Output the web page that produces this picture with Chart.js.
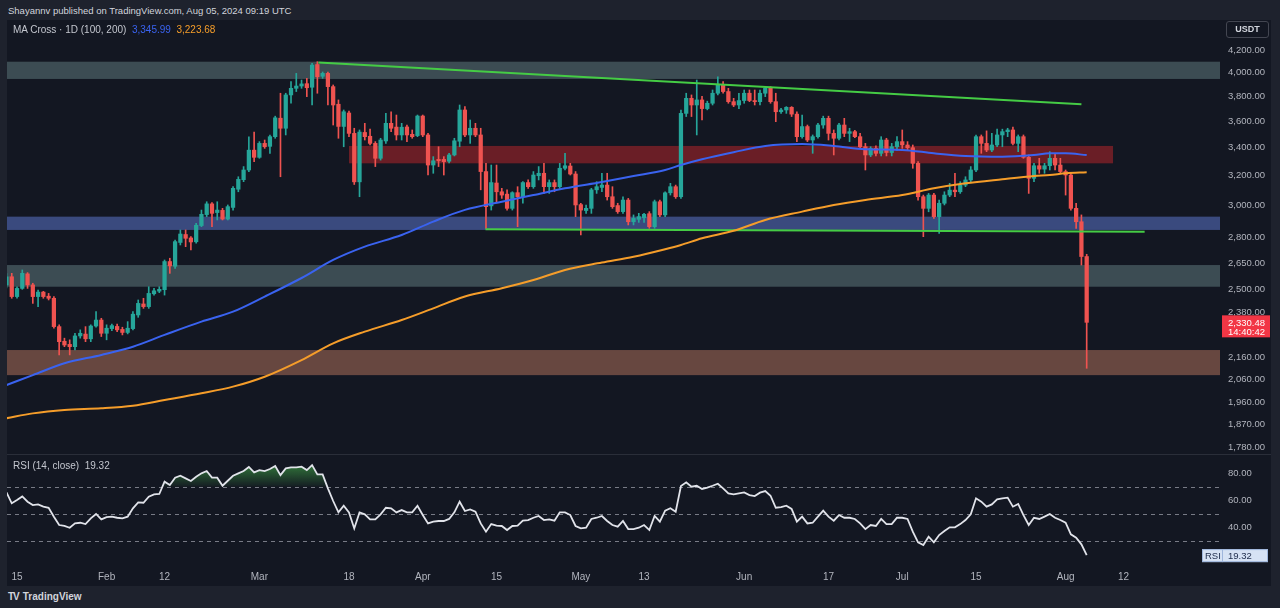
<!DOCTYPE html>
<html>
<head>
<meta charset="utf-8" />
<script src="https://cdn.jsdelivr.net/npm/chart.js"></script>
<style>
  html, body { margin: 0; padding: 0; }
  body {
    width: 1280px; height: 608px; background: #1e222d; position: relative; overflow: hidden;
    font-family: "Liberation Sans", Arial, sans-serif; color: #d1d4dc;
  }
  #panel { position: absolute; left: 7px; top: 20px; width: 1264px; height: 566px; background: #131722; }
  #priceChart { position: absolute; left: 7px; top: 20px; }
  #rsiChart { position: absolute; left: 7px; top: 455px; }
  #sep { position: absolute; left: 7px; top: 454px; width: 1264px; height: 1px; background: #2a2e39; }
  #header { position: absolute; left: 8px; top: 6px; font-size: 9.5px; line-height: 10px; }
  .legend { position: absolute; left: 13px; font-size: 10px; line-height: 10px; color: #c3c6ce; white-space: pre; }
  #maLegend { top: 25px; }
  #rsiLegend { top: 461px; }
  .blue { color: #3a63f0; }
  .orange { color: #f59d2a; }
  #usdt {
    position: absolute; left: 1226px; top: 21px; width: 41px; height: 15px; border: 1px solid #434651;
    border-radius: 3px; font-size: 9px; font-weight: bold; line-height: 15px; text-align: center; color: #d1d4dc;
  }
  #logo { position: absolute; left: 8px; top: 591px; font-size: 10px; line-height: 11px; font-weight: bold; color: #d1d4dc; }
  #logo .mark { font-size: 10px; letter-spacing: -1px; margin-right: 4px; }
</style>
</head>
<body>
<div id="header">Shayannv published on TradingView.com, Aug 05, 2024 09:19 UTC</div>
<div id="panel"></div>
<canvas id="priceChart" width="1264" height="434" style="width:1264px;height:434px"></canvas>
<div id="sep"></div>
<canvas id="rsiChart" width="1264" height="131" style="width:1264px;height:131px"></canvas>
<div id="maLegend" class="legend">MA Cross · 1D (100, 200)  <span class="blue">3,345.99</span>  <span class="orange">3,223.68</span></div>
<div id="rsiLegend" class="legend">RSI (14, close)  19.32</div>
<div id="usdt">USDT</div>
<div id="logo"><span class="mark">TV</span>TradingView</div>
<script>
// ETH/USDT daily, day 0 = Jan 15 2024
const firstDay = -2;
const opens = [
  2527, 2572, 2464, 2508, 2588, 2527, 2464, 2488, 2466, 2455, 2309, 2237, 2222, 2211, 2263, 2272, 2249, 2312, 2342, 2276,
  2299, 2310, 2295, 2280, 2299, 2368, 2425, 2411, 2479, 2493, 2501, 2658, 2631, 2770, 2818, 2797, 2774, 2873, 2942, 3011,
  2955, 2969, 2914, 2988, 3108, 3173, 3240, 3382, 3330, 3432, 3410, 3482, 3624, 3546, 3811, 3866, 3885, 3905, 3875, 4070,
  3968, 3993, 3880, 3735, 3560, 3665, 3507, 3158, 3514, 3485, 3432, 3323, 3450, 3584, 3555, 3495, 3556, 3500, 3490, 3641,
  3495, 3275, 3315, 3315, 3302, 3347, 3448, 3689, 3495, 3546, 3495, 3229, 2998, 3150, 3091, 3075, 2982, 3085, 3058, 3153,
  3125, 3200, 3217, 3125, 3153, 3125, 3252, 3268, 3212, 3006, 2968, 2982, 3104, 3120, 3136, 3058, 3000, 2961, 3036, 2897,
  2912, 2922, 2948, 2866, 3025, 2940, 3084, 3125, 3058, 3662, 3783, 3729, 3770, 3700, 3743, 3825, 3894, 3839, 3756, 3729,
  3765, 3825, 3765, 3756, 3825, 3866, 3756, 3675, 3689, 3710, 3656, 3482, 3559, 3457, 3482, 3571, 3623, 3507, 3470, 3571,
  3507, 3520, 3482, 3407, 3347, 3395, 3359, 3457, 3365, 3407, 3445, 3420, 3400, 3287, 3058, 2982, 3069, 2929, 3015, 3069,
  3102, 3091, 3136, 3171, 3240, 3482, 3432, 3383, 3420, 3495, 3520, 3533, 3432, 3482, 3330, 3182, 3270, 3246, 3270, 3323,
  3275, 3229, 3205, 2982, 2897, 2687
];
const highs = [
  2590, 2591, 2517, 2610, 2595, 2536, 2499, 2492, 2481, 2464, 2318, 2252, 2244, 2276, 2293, 2309, 2318, 2385, 2351, 2318,
  2322, 2322, 2306, 2334, 2385, 2446, 2455, 2517, 2508, 2517, 2667, 2677, 2785, 2846, 2846, 2805, 2887, 2971, 3025, 3019,
  3025, 2982, 3004, 3125, 3193, 3264, 3480, 3517, 3445, 3457, 3495, 3640, 3825, 3825, 3922, 3993, 3936, 3950, 4081, 4095,
  4005, 4005, 3894, 3770, 3689, 3680, 3546, 3533, 3584, 3539, 3445, 3470, 3662, 3675, 3649, 3584, 3571, 3533, 3649, 3649,
  3507, 3335, 3407, 3335, 3359, 3470, 3729, 3716, 3610, 3584, 3546, 3287, 3275, 3275, 3114, 3104, 3091, 3125, 3159, 3171,
  3229, 3264, 3287, 3171, 3171, 3287, 3359, 3287, 3229, 3015, 3004, 3114, 3159, 3217, 3217, 3125, 3015, 3058, 3047, 2940,
  2950, 2950, 2961, 3036, 3036, 3091, 3148, 3136, 3689, 3825, 3811, 3936, 3800, 3760, 3852, 3964, 3922, 3866, 3783, 3825,
  3852, 3852, 3852, 3852, 3880, 3880, 3825, 3702, 3716, 3716, 3675, 3649, 3571, 3495, 3584, 3640, 3640, 3533, 3584, 3623,
  3546, 3530, 3507, 3432, 3407, 3413, 3482, 3470, 3432, 3482, 3533, 3445, 3420, 3300, 3069, 3080, 3080, 3036, 3091, 3148,
  3217, 3159, 3193, 3264, 3495, 3495, 3526, 3507, 3539, 3539, 3546, 3555, 3495, 3495, 3347, 3287, 3323, 3287, 3371, 3359,
  3323, 3240, 3217, 3015, 2940, 2700
];
const lows = [
  2510, 2455, 2455, 2503, 2508, 2428, 2411, 2455, 2446, 2301, 2172, 2211, 2172, 2195, 2252, 2235, 2235, 2306, 2260, 2244,
  2289, 2284, 2268, 2273, 2293, 2356, 2402, 2402, 2472, 2485, 2472, 2591, 2619, 2755, 2745, 2725, 2765, 2866, 2929, 2866,
  2908, 2908, 2908, 2971, 3091, 3159, 3229, 3299, 3323, 3395, 3359, 3470, 3193, 3495, 3743, 3839, 3866, 3797, 3729, 3825,
  3950, 3729, 3571, 3470, 3407, 3482, 3140, 3058, 3457, 3420, 3264, 3310, 3432, 3520, 3457, 3457, 3445, 3470, 3482, 3482,
  3205, 3217, 3264, 3205, 3290, 3340, 3407, 3482, 3432, 3482, 3104, 2856, 2971, 3025, 3047, 2971, 2971, 2866, 3015, 3114,
  3114, 3171, 3080, 3080, 3091, 3114, 3240, 3205, 2929, 2815, 2950, 2950, 3080, 3091, 3036, 2982, 2950, 2950, 2877, 2877,
  2893, 2893, 2856, 2856, 2929, 2929, 3069, 3047, 3047, 3637, 3637, 3495, 3610, 3690, 3729, 3811, 3825, 3743, 3716, 3700,
  3743, 3756, 3729, 3729, 3797, 3743, 3597, 3662, 3662, 3637, 3445, 3470, 3445, 3359, 3470, 3546, 3457, 3347, 3457, 3482,
  3445, 3475, 3395, 3240, 3335, 3340, 3340, 3340, 3340, 3380, 3395, 3385, 3252, 3036, 2805, 2960, 2918, 2825, 3004, 3058,
  3058, 3080, 3125, 3159, 3229, 3359, 3371, 3371, 3407, 3407, 3482, 3420, 3371, 3323, 3080, 3159, 3217, 3217, 3240, 3240,
  3217, 3069, 2971, 2856, 2638, 2110
];
const closes = [
  2572, 2464, 2508, 2591, 2527, 2464, 2488, 2464, 2455, 2309, 2235, 2219, 2211, 2263, 2276, 2249, 2312, 2342, 2276, 2301,
  2314, 2293, 2280, 2301, 2372, 2428, 2411, 2481, 2495, 2503, 2658, 2633, 2775, 2821, 2795, 2773, 2875, 2944, 3011, 2950,
  2971, 2914, 2993, 3114, 3175, 3240, 3382, 3330, 3432, 3407, 3482, 3627, 3546, 3811, 3866, 3885, 3903, 3871, 4065, 3964,
  3993, 3880, 3729, 3560, 3675, 3507, 3158, 3517, 3482, 3432, 3323, 3457, 3584, 3546, 3495, 3554, 3495, 3482, 3641, 3495,
  3275, 3305, 3305, 3299, 3347, 3451, 3689, 3495, 3546, 3495, 3229, 2993, 3153, 3091, 3069, 2982, 3085, 3058, 3153, 3125,
  3205, 3217, 3125, 3153, 3125, 3252, 3270, 3212, 3004, 2971, 2982, 3104, 3125, 3136, 3058, 2993, 2961, 3036, 2897, 2918,
  2929, 2944, 2866, 3025, 2940, 3084, 3125, 3058, 3662, 3783, 3729, 3770, 3700, 3743, 3825, 3894, 3839, 3756, 3729, 3765,
  3825, 3765, 3756, 3825, 3866, 3756, 3675, 3689, 3710, 3656, 3482, 3559, 3457, 3482, 3571, 3623, 3507, 3470, 3571, 3507,
  3520, 3482, 3407, 3347, 3395, 3359, 3457, 3365, 3407, 3445, 3420, 3400, 3287, 3058, 2982, 3069, 2929, 3015, 3069, 3102,
  3091, 3136, 3171, 3240, 3482, 3432, 3383, 3420, 3495, 3520, 3533, 3432, 3482, 3330, 3182, 3270, 3246, 3270, 3323, 3275,
  3229, 3205, 2982, 2897, 2687, 2330.48
];
const rsi = [
  65.8, 57.7, 60.1, 62.8, 58.9, 56.4, 56.9, 55.2, 54.4, 47.8, 41.6, 40.9,
  39.6, 42.8, 43.3, 42.3, 46.5, 49.8, 45.8, 47.5, 47.8, 47.0, 46.5, 47.8,
  54.0, 58.4, 58.1, 62.6, 64.3, 64.6, 73.7, 71.2, 76.7, 78.1, 76.2, 74.2,
  77.4, 79.9, 81.6, 76.7, 76.7, 70.7, 74.4, 78.1, 79.9, 81.6, 84.6, 80.6,
  82.3, 81.6, 83.1, 85.3, 78.6, 83.6, 84.3, 84.3, 84.8, 82.3, 86.0, 79.1,
  79.1, 68.8, 59.4, 51.0, 55.9, 51.0, 39.1, 51.0, 49.5, 45.8, 45.8, 49.5,
  54.4, 54.0, 51.0, 52.7, 51.0, 51.0, 55.9, 49.0, 42.8, 44.1, 44.6, 44.6,
  46.1, 51.0, 58.9, 52.0, 53.2, 51.5, 42.8, 36.7, 42.3, 41.1, 40.9, 37.9,
  40.9, 41.1, 44.8, 45.3, 47.0, 48.3, 45.3, 45.8, 44.8, 51.0, 51.0, 49.0,
  40.9, 39.1, 39.6, 46.1, 47.0, 48.3, 44.6, 41.6, 40.4, 44.6, 38.6, 38.6,
  39.6, 41.6, 37.9, 48.3, 44.1, 52.2, 54.0, 51.5, 70.5, 73.2, 70.0, 70.7,
  68.3, 69.3, 70.7, 72.2, 68.8, 65.1, 64.3, 65.1, 65.8, 63.8, 63.1, 65.6,
  66.8, 63.3, 54.4, 54.9, 55.9, 53.5, 44.1, 47.8, 42.8, 43.3, 47.8, 52.2,
  47.8, 44.8, 49.0, 47.0, 47.0, 46.1, 42.8, 38.6, 41.6, 40.9, 46.1, 42.3,
  42.3, 47.0, 47.0, 46.1, 36.7, 28.8, 26.8, 33.0, 28.8, 34.2, 37.2, 39.9,
  39.9, 42.3, 45.3, 49.5, 61.4, 58.9, 55.2, 56.9, 60.6, 61.4, 61.9, 55.2,
  57.2, 49.0, 41.6, 47.0, 46.1, 47.8, 49.8, 47.0, 45.3, 43.3, 34.7, 32.2,
  27.3, 19.32
];
// moving averages read at sample days
const maDays = [-2, 3, 9, 16, 22, 28, 35, 41, 47, 54, 60, 66, 73, 79, 85, 92, 98, 104, 111, 117, 123, 126, 130, 136, 142, 149, 155, 161, 168, 174, 180, 187, 193, 196, 199, 203];
const ma100 = [2035, 2079, 2133, 2172, 2211, 2268, 2334, 2385, 2464, 2565, 2667, 2745, 2815, 2898, 2972, 3025, 3069, 3114, 3157, 3198, 3240, 3275, 3316, 3367, 3413, 3427, 3413, 3389, 3384, 3359, 3340, 3335, 3347, 3359, 3359, 3346];
const ma200 = [1894, 1914, 1928, 1935, 1946, 1970, 1999, 2028, 2072, 2148, 2227, 2284, 2342, 2402, 2464, 2509, 2554, 2610, 2652, 2686, 2730, 2755, 2795, 2841, 2908, 2961, 3004, 3037, 3069, 3114, 3148, 3176, 3198, 3205, 3217, 3224];
// drawn levels
const zoneTop = [4095, 3413, 2929, 2638, 2195];
const zoneBottom = [3945, 3287, 2846, 2517, 2079];
const zoneFrom = [null, 63, null, null, null];
const zoneTo = [null, 208, null, null, null];
const upperTrendDays = [57.2, 202];
const upperTrendPrices = [4089, 3735];
const lowerTrendDays = [88.9, 214];
const lowerTrendPrices = [2850, 2835];
// axes
const tickDays = [0, 17, 28, 46, 63, 77, 91, 107, 119, 138, 154, 168, 182, 199, 210];
const tickLabels = ["15", "Feb", "12", "Mar", "18", "Apr", "15", "May", "13", "Jun", "17", "Jul", "15", "Aug", "12"];
const priceTicks = [4200, 4000, 3800, 3600, 3400, 3200, 3000, 2800, 2650, 2500, 2380, 2160, 2060, 1960, 1870, 1780];
const rsiTicks = [80, 60, 40];
const rsiLevels = [70, 50, 30];
const lastPrice = 2330.48;
const countdown = "14:40:42";
const lastRsi = 19.32;

const UP = "#26a69a", DOWN = "#ef5350";
const zoneColors = ["#3c4c53", "#6a1e26", "#3a4a7e", "#3c4c53", "#674740"];
const FONT = '"Liberation Sans", Arial, sans-serif';
const fmt = (v) => v.toLocaleString("en-US", { minimumFractionDigits: 2, maximumFractionDigits: 2 });

const days = closes.map((_, i) => firstDay + i);
const candleColors = days.map((_, i) => (closes[i] >= opens[i] ? UP : DOWN));
const xRange = { type: "linear", min: -1.9, max: 228.3, offset: false, bounds: "data" };

const zonePlugin = {
  id: "zones",
  beforeDatasetsDraw(chart) {
    const { ctx, chartArea, scales } = chart;
    ctx.save();
    zoneTop.forEach((top, i) => {
      const x0 = zoneFrom[i] == null ? chartArea.left : scales.x.getPixelForValue(zoneFrom[i]);
      const x1 = zoneTo[i] == null ? chartArea.right : scales.x.getPixelForValue(zoneTo[i]);
      const y0 = scales.y.getPixelForValue(top);
      const y1 = scales.y.getPixelForValue(zoneBottom[i]);
      ctx.fillStyle = zoneColors[i];
      ctx.fillRect(x0, y0, x1 - x0, y1 - y0);
    });
    ctx.restore();
  },
};

const lastPricePlugin = {
  id: "lastPrice",
  afterDraw(chart) {
    const { ctx, chartArea, scales } = chart;
    const py = scales.y.getPixelForValue(lastPrice);
    ctx.save();
    ctx.fillStyle = "#f23645";
    ctx.fillRect(chartArea.right + 2, py - 7, 48, 22);
    ctx.fillStyle = "#ffffff";
    ctx.font = "9.5px " + FONT;
    ctx.textBaseline = "middle";
    ctx.fillText(fmt(lastPrice), chartArea.right + 8, py + 1);
    ctx.fillText(countdown, chartArea.right + 8, py + 10);
    ctx.restore();
  },
};

const rsiLevelPlugin = {
  id: "rsiLevels",
  beforeDatasetsDraw(chart) {
    const { ctx, chartArea, scales } = chart;
    ctx.save();
    ctx.strokeStyle = "#787b86";
    ctx.lineWidth = 1;
    ctx.setLineDash([4, 4]);
    rsiLevels.forEach((v) => {
      const y = Math.round(scales.y.getPixelForValue(v)) + 0.5;
      ctx.beginPath();
      ctx.moveTo(chartArea.left, y);
      ctx.lineTo(chartArea.right, y);
      ctx.stroke();
    });
    ctx.restore();
  },
  afterDraw(chart) {
    const { ctx, chartArea, scales } = chart;
    const y = scales.y.getPixelForValue(lastRsi);
    const x0 = chartArea.right - 18;
    ctx.save();
    ctx.fillStyle = "#d6e2f4";
    ctx.strokeStyle = "#9fb6dc";
    ctx.lineWidth = 1;
    ctx.fillRect(x0, y - 6, 66, 13);
    ctx.strokeRect(x0 + 0.5, y - 5.5, 65, 12);
    ctx.beginPath();
    ctx.moveTo(chartArea.right + 2.5, y - 6);
    ctx.lineTo(chartArea.right + 2.5, y + 7);
    ctx.stroke();
    ctx.fillStyle = "#22304f";
    ctx.font = "9.5px " + FONT;
    ctx.textBaseline = "middle";
    ctx.fillText("RSI", x0 + 3, y + 1);
    ctx.fillText(lastRsi.toFixed(2), chartArea.right + 8, y + 1);
    ctx.restore();
  },
};

// fixed axis width and no label overhang padding, so the plot fills the pane
const yAxisStyle = {
  position: "right",
  afterFit: (s) => { s.width = 51; s.paddingTop = 0; s.paddingBottom = 0; },
  grid: { display: false, drawTicks: false },
  border: { display: false },
};

new Chart(document.getElementById("priceChart"), {
  type: "line",
  data: {
    datasets: [
      {
        type: "line", order: 0,
        data: maDays.map((d, i) => ({ x: d, y: ma100[i] })),
        borderColor: "#3a63f0", borderWidth: 2, pointRadius: 0, cubicInterpolationMode: "monotone",
      },
      {
        type: "line", order: 0,
        data: maDays.map((d, i) => ({ x: d, y: ma200[i] })),
        borderColor: "#f59d2a", borderWidth: 2, pointRadius: 0, cubicInterpolationMode: "monotone",
      },
      {
        type: "line", order: 0,
        data: upperTrendDays.map((d, i) => ({ x: d, y: upperTrendPrices[i] })),
        borderColor: "#45cc45", borderWidth: 2, pointRadius: 0,
      },
      {
        type: "line", order: 0,
        data: lowerTrendDays.map((d, i) => ({ x: d, y: lowerTrendPrices[i] })),
        borderColor: "#45cc45", borderWidth: 2, pointRadius: 0,
      },
      {
        type: "bar", order: 1, grouped: false,
        data: days.map((d, i) => ({ x: d, y: [opens[i], closes[i]] })),
        backgroundColor: candleColors, barThickness: 3.6, minBarLength: 1, borderWidth: 0,
      },
      {
        type: "bar", order: 2, grouped: false,
        data: days.map((d, i) => ({ x: d, y: [lows[i], highs[i]] })),
        backgroundColor: candleColors, barThickness: 1, minBarLength: 1, borderWidth: 0,
      },
    ],
  },
  options: {
    responsive: false, animation: false, devicePixelRatio: 1, events: [],
    layout: { padding: 0, autoPadding: false },
    plugins: { legend: { display: false }, tooltip: { enabled: false } },
    scales: {
      x: { ...xRange, display: false },
      y: {
        ...yAxisStyle,
        type: "logarithmic", min: 1753, max: 4481.5, bounds: "data",
        afterBuildTicks: (s) => { s.ticks = priceTicks.map((v) => ({ value: v })); },
        ticks: { color: "#b2b5be", font: { size: 9.5, family: FONT }, padding: 8, callback: (v) => fmt(v) },
      },
    },
  },
  plugins: [zonePlugin, lastPricePlugin],
});

new Chart(document.getElementById("rsiChart"), {
  type: "line",
  data: {
    datasets: [
      {
        data: days.map((d, i) => ({ x: d, y: rsi[i] })),
        borderColor: "#e1e3ea", borderWidth: 1.8, pointRadius: 0, tension: 0,
        fill: { target: { value: 70 }, below: "rgba(0,0,0,0)" },
        backgroundColor: (c) => {
          const chart = c.chart;
          if (!chart.chartArea || !chart.scales.y) return "rgba(0,0,0,0)";
          const y70 = chart.scales.y.getPixelForValue(70);
          const g = chart.ctx.createLinearGradient(0, y70 - 24, 0, y70);
          g.addColorStop(0, "rgba(60,150,66,0.8)");
          g.addColorStop(1, "rgba(60,150,66,0.05)");
          return g;
        },
      },
    ],
  },
  options: {
    responsive: false, animation: false, devicePixelRatio: 1, events: [],
    layout: { padding: 0, autoPadding: false },
    plugins: { legend: { display: false }, tooltip: { enabled: false } },
    scales: {
      x: {
        ...xRange,
        afterBuildTicks: (s) => { s.ticks = tickDays.map((v) => ({ value: v })); },
        afterFit: (s) => { s.height = 20; s.paddingLeft = 0; s.paddingRight = 0; },
        grid: { display: false, drawTicks: false },
        border: { display: false },
        ticks: {
          color: "#b2b5be", font: { size: 10, family: FONT }, padding: 5,
          autoSkip: false, maxRotation: 0, minRotation: 0,
          callback: (v, i) => tickLabels[i],
        },
      },
      y: {
        ...yAxisStyle,
        min: 11.26, max: 93.48,
        afterBuildTicks: (s) => { s.ticks = rsiTicks.map((v) => ({ value: v })); },
        ticks: { color: "#b2b5be", font: { size: 9.5, family: FONT }, padding: 8, callback: (v) => v.toFixed(2) },
      },
    },
  },
  plugins: [rsiLevelPlugin],
});
</script>
</body>
</html>
